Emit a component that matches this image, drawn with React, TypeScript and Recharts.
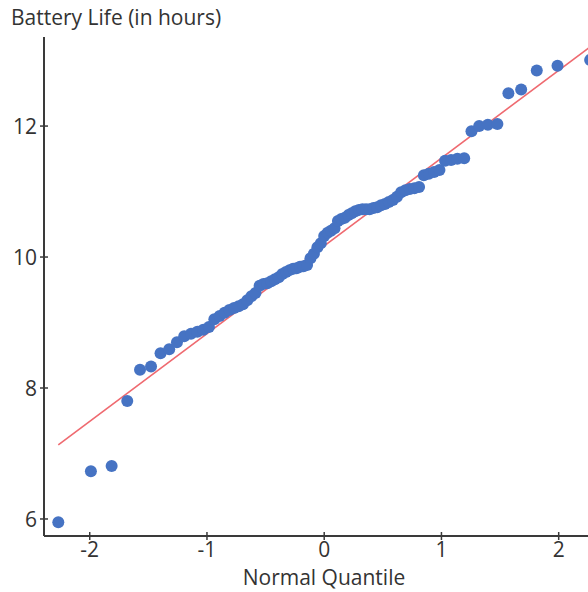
import React from "react";
import { ScatterChart, Scatter, XAxis, YAxis, ReferenceLine } from "recharts";

// normal quantiles of the ranked sample (n = 85)
const quantiles = [
  -2.268, -1.99, -1.813, -1.68, -1.571, -1.477, -1.396, -1.322, -1.256, -1.194,
  -1.136, -1.082, -1.031, -0.983, -0.937, -0.892, -0.85, -0.809, -0.769, -0.73,
  -0.693, -0.656, -0.621, -0.586, -0.551, -0.518, -0.485, -0.452, -0.42, -0.388,
  -0.357, -0.326, -0.296, -0.265, -0.235, -0.206, -0.176, -0.146, -0.117, -0.088,
  -0.058, -0.029, 0, 0.029, 0.058, 0.088, 0.117, 0.146, 0.176, 0.206,
  0.235, 0.265, 0.296, 0.326, 0.357, 0.388, 0.42, 0.452, 0.485, 0.518,
  0.551, 0.586, 0.621, 0.656, 0.693, 0.73, 0.769, 0.809, 0.85, 0.892,
  0.937, 0.983, 1.031, 1.082, 1.136, 1.194, 1.256, 1.322, 1.396, 1.477,
  1.571, 1.68, 1.813, 1.99, 2.268,
];

const batteryHours = [
  5.95, 6.73, 6.81, 7.8, 8.28, 8.33, 8.53, 8.59, 8.7, 8.79,
  8.83, 8.86, 8.89, 8.93, 9.05, 9.1, 9.15, 9.19, 9.22, 9.25,
  9.28, 9.34, 9.4, 9.45, 9.56, 9.59, 9.6, 9.63, 9.66, 9.69,
  9.74, 9.77, 9.8, 9.82, 9.83, 9.85, 9.86, 9.88, 9.98, 10.05,
  10.15, 10.21, 10.32, 10.37, 10.4, 10.44, 10.55, 10.58, 10.6, 10.64,
  10.67, 10.7, 10.72, 10.73, 10.73, 10.73, 10.75, 10.76, 10.79, 10.81,
  10.84, 10.87, 10.92, 10.99, 11.02, 11.04, 11.05, 11.07, 11.25, 11.27,
  11.3, 11.33, 11.47, 11.48, 11.5, 11.51, 11.92, 12.0, 12.02, 12.03,
  12.5, 12.56, 12.85, 12.92, 13.01,
];

// reference line ends
const fitX = [-2.268, 2.268];
const fitY = [7.13, 13.21];

const xTicks = [-2, -1, 0, 1, 2];
const yTicks = [6, 8, 10, 12];

const data = quantiles.map((q, i) => ({ q, hours: batteryHours[i] }));

const FONT = "'Open Sans', 'Noto Sans', sans-serif";
const AXIS = "#3a3a3a";
const TEXT = "#333";
const FS = 21;

const Dot = (props: any) => (
  <circle cx={props.cx} cy={props.cy} r={6} fill="#4673c3" />
);

const XTick = (props: any) => {
  const { x, y, payload } = props;
  return (
    <g>
      <line x1={x} x2={x} y1={y - 4} y2={y + 4} stroke={AXIS} strokeWidth={1.5} />
      <text x={x} y={y + 21} textAnchor="middle" fill={TEXT} fontSize={FS} fontFamily={FONT}>
        {payload.value}
      </text>
    </g>
  );
};

const YTick = (props: any) => {
  const { x, y, payload } = props;
  return (
    <g>
      <line x1={x - 4} x2={x + 4} y1={y} y2={y} stroke={AXIS} strokeWidth={1.5} />
      <text x={x - 7} y={y} dy="0.36em" textAnchor="end" fill={TEXT} fontSize={FS} fontFamily={FONT}>
        {payload.value}
      </text>
    </g>
  );
};

export default function App() {
  // chart fills the whole window, so drop the body margin
  return (
    <div style={{ width: 588, height: 592, overflow: "hidden" }}>
      <style>{"body { margin: 0; }"}</style>
      <ScatterChart
        width={588}
        height={592}
        margin={{ top: 37, right: 0, left: 0, bottom: 0 }}
      >
        <XAxis
          type="number"
          dataKey="q"
          domain={[-2.39, 2.25]}
          ticks={xTicks}
          allowDataOverflow
          tickLine={false}
          tickSize={0}
          tickMargin={0}
          height={56}
          axisLine={{ stroke: AXIS, strokeWidth: 2 }}
          tick={<XTick />}
          label={(p: any) => (
            <text
              x={p.viewBox.x + p.viewBox.width / 2 + 8}
              y={p.viewBox.y + 49}
              textAnchor="middle"
              fill={TEXT}
              fontSize={FS}
              fontFamily={FONT}
            >
              Normal Quantile
            </text>
          )}
        />
        <YAxis
          type="number"
          dataKey="hours"
          domain={[5.74, 13.36]}
          ticks={yTicks}
          allowDataOverflow
          tickLine={false}
          tickSize={0}
          tickMargin={0}
          width={44}
          axisLine={{ stroke: AXIS, strokeWidth: 2 }}
          tick={<YTick />}
          label={() => (
            <text x={11} y={25} fill={TEXT} fontSize={FS} fontFamily={FONT}>
              Battery Life (in hours)
            </text>
          )}
        />
        <Scatter data={data} shape={<Dot />} isAnimationActive={false} />
        <ReferenceLine
          segment={[
            { x: fitX[0], y: fitY[0] },
            { x: fitX[1], y: fitY[1] },
          ]}
          stroke="#ef6a70"
          strokeWidth={1.6}
          ifOverflow="hidden"
        />
      </ScatterChart>
    </div>
  );
}
